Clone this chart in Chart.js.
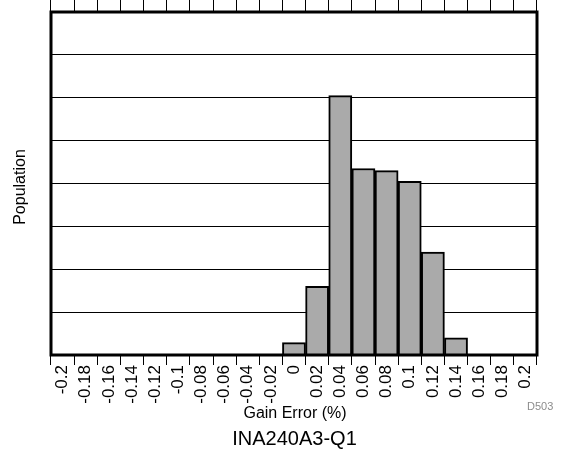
<!DOCTYPE html>
<html>
<head>
<meta charset="utf-8">
<script src="https://cdn.jsdelivr.net/npm/chart.js@4.4.1/dist/chart.umd.min.js"></script>
<style>
  html, body { margin: 0; padding: 0; background: #fff; }
  #wrap { width: 564px; height: 454px; }
</style>
</head>
<body>
<div id="wrap"><canvas id="histChart" width="564" height="454"></canvas></div>
<script>
// Histogram bins (gain error %), one category per bin
const binLabels = ["-0.2", "-0.18", "-0.16", "-0.14", "-0.12", "-0.1", "-0.08", "-0.06", "-0.04", "-0.02",
                   "0", "0.02", "0.04", "0.06", "0.08", "0.1", "0.12", "0.14", "0.16", "0.18", "0.2"];
// Population per bin, in grid units (no y tick labels on the original)
const population = [0, 0, 0, 0, 0, 0, 0, 0, 0, 0,
                    0.29, 1.6, 6.05, 4.35, 4.3, 4.05, 2.4, 0.4, 0, 0, 0];
const yMax = 8;

const FONT = "'Liberation Sans', Arial, Helvetica, sans-serif";

// Frame round the plot and the free texts
const decorPlugin = {
  id: 'decor',
  afterDatasetsDraw(chart) {
    const { ctx, chartArea: a } = chart;
    ctx.save();
    ctx.strokeStyle = '#000';
    ctx.lineWidth = 3;
    ctx.strokeRect(a.left, a.top, a.right - a.left, a.bottom - a.top);
    ctx.restore();
  },
  afterDraw(chart) {
    const { ctx } = chart;
    ctx.save();
    ctx.fillStyle = '#000';
    ctx.textAlign = 'center';
    ctx.textBaseline = 'alphabetic';
    ctx.font = '16px ' + FONT;
    ctx.fillText('Gain Error (%)', 295, 418);
    ctx.font = '20px ' + FONT;
    ctx.fillText('INA240A3-Q1', 294.5, 445);
    ctx.fillStyle = '#8c8c8c';
    ctx.textAlign = 'left';
    ctx.font = '11px ' + FONT;
    ctx.fillText('D503', 527, 410);
    ctx.fillStyle = '#000';
    ctx.font = '16px ' + FONT;
    ctx.translate(24.5, 187);
    ctx.rotate(-Math.PI / 2);
    ctx.textAlign = 'center';
    ctx.fillText('Population', 0, 0);
    ctx.restore();
  }
};

new Chart(document.getElementById('histChart'), {
  type: 'bar',
  data: {
    labels: binLabels,
    datasets: [{
      data: population,
      backgroundColor: '#aaaaaa',
      borderColor: '#000',
      borderWidth: 2,
      barPercentage: 1,
      categoryPercentage: 1
    }]
  },
  options: {
    responsive: false,
    animation: false,
    layout: { padding: { left: 0, right: 27, top: 0, bottom: 0 } },
    plugins: { legend: { display: false }, tooltip: { enabled: false } },
    scales: {
      x: {
        position: 'bottom',
        offset: true,
        border: { display: false },
        grid: { offset: true, drawOnChartArea: false, drawTicks: true, tickLength: 10, color: '#000', lineWidth: 1 },
        ticks: {
          autoSkip: false, minRotation: 90, maxRotation: 90, padding: 0,
          color: '#000', font: { family: FONT, size: 17 }
        },
        afterFit(scale) { scale.height = 99; }
      },
      xTop: {
        type: 'category',
        position: 'top',
        offset: true,
        border: { display: false },
        grid: { offset: true, drawOnChartArea: false, drawTicks: true, tickLength: 12, color: '#000', lineWidth: 1 },
        ticks: { display: false },
        afterFit(scale) { scale.height = 12; }
      },
      y: {
        min: 0,
        max: yMax,
        border: { display: false },
        grid: { color: '#000', lineWidth: 1, drawTicks: false },
        ticks: { display: false, stepSize: 1 },
        afterFit(scale) { scale.width = 51; }
      }
    }
  },
  plugins: [decorPlugin]
});
</script>
</body>
</html>
